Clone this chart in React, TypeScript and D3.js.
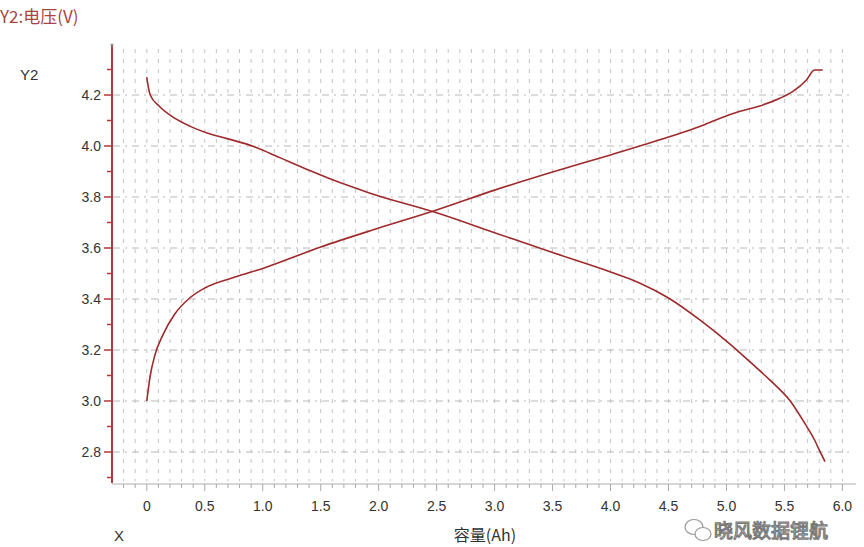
import React, { useEffect, useRef } from "react";
import * as d3 from "d3";

// discharge curve (capacity Ah, voltage V)
const dischargeCap = [0, 0.01, 0.03, 0.11, 0.22, 0.37, 0.52, 0.7, 0.91, 1.06, 1.23, 1.41, 1.58, 1.75, 1.92, 2.5, 3.0, 3.5, 4.0, 4.25, 4.5, 4.77, 5.0, 5.26, 5.38, 5.55, 5.68, 5.76, 5.8, 5.85];
const dischargeV = [4.27, 4.24, 4.2, 4.155, 4.115, 4.078, 4.051, 4.028, 4.0, 3.972, 3.938, 3.903, 3.872, 3.843, 3.816, 3.738, 3.66, 3.582, 3.506, 3.463, 3.404, 3.318, 3.235, 3.13, 3.08, 3.0, 2.909, 2.847, 2.808, 2.762];

// charge curve
const chargeCap = [0, 0.03, 0.07, 0.14, 0.24, 0.37, 0.5, 0.76, 1.0, 1.5, 2.0, 2.5, 3.0, 3.5, 4.0, 4.5, 4.77, 4.94, 5.11, 5.28, 5.46, 5.57, 5.69, 5.76, 5.83];
const chargeV = [3.0, 3.1, 3.18, 3.26, 3.34, 3.404, 3.443, 3.486, 3.52, 3.604, 3.678, 3.749, 3.827, 3.898, 3.965, 4.035, 4.076, 4.108, 4.135, 4.156, 4.187, 4.213, 4.259, 4.298, 4.298];

const xTickLabels = ["0", "0.5", "1.0", "1.5", "2.0", "2.5", "3.0", "3.5", "4.0", "4.5", "5.0", "5.5", "6.0"];
const yTickLabels = ["2.8", "3.0", "3.2", "3.4", "3.6", "3.8", "4.0", "4.2"];

const App = () => {
  const svgRef = useRef<SVGSVGElement>(null);

  useEffect(() => {
    const svg = d3.select(svgRef.current);
    svg.selectAll("*").remove();

    const x = d3.scaleLinear().domain([-0.3, 6.1]).range([112, 854]);
    const y = d3.scaleLinear().domain([4.2, 2.8]).range([95, 452]);
    const top = y(4.396);
    const bottom = 483;
    const axisRed = "#b0393c";
    const lineRed = "#9e2a2b";
    const font = "Arial, 'Liberation Sans', sans-serif";
    const cjk = "'Noto Sans CJK SC', sans-serif";

    // vertical grid every 0.1
    const vGrid = d3.range(-2, 61).map((i) => i / 10);
    svg
      .append("g")
      .selectAll("line")
      .data(vGrid)
      .join("line")
      .attr("x1", (d) => x(d))
      .attr("x2", (d) => x(d))
      .attr("y1", top + 4)
      .attr("y2", bottom - 2)
      .attr("stroke", "#c4c4c4")
      .attr("stroke-width", 1)
      .attr("stroke-dasharray", "4,6");

    // horizontal grid at major ticks
    const hGrid = yTickLabels.map(Number);
    svg
      .append("g")
      .selectAll("line")
      .data(hGrid)
      .join("line")
      .attr("x1", 113)
      .attr("x2", 854)
      .attr("y1", (d) => y(d))
      .attr("y2", (d) => y(d))
      .attr("stroke", "#b8b8b8")
      .attr("stroke-width", 1)
      .attr("stroke-dasharray", "7,5,2,5");

    // x axis
    svg
      .append("line")
      .attr("x1", 112)
      .attr("x2", 856)
      .attr("y1", bottom + 1)
      .attr("y2", bottom + 1)
      .attr("stroke", "#c8c8c8")
      .attr("stroke-width", 1.5);
    svg
      .append("g")
      .selectAll("line")
      .data(vGrid)
      .join("line")
      .attr("x1", (d) => x(d))
      .attr("x2", (d) => x(d))
      .attr("y1", bottom + 1)
      .attr("y2", (d) => (Math.abs(d * 2 - Math.round(d * 2)) < 1e-6 ? bottom + 8 : bottom + 5))
      .attr("stroke", "#aaa")
      .attr("stroke-width", 1);
    svg
      .append("g")
      .selectAll("text")
      .data(xTickLabels)
      .join("text")
      .attr("x", (d) => x(+d))
      .attr("y", 511)
      .attr("text-anchor", "middle")
      .attr("font-family", font)
      .attr("font-size", 14)
      .attr("fill", "#333")
      .text((d) => d);

    // y axis
    svg
      .append("line")
      .attr("x1", 112)
      .attr("x2", 112)
      .attr("y1", top)
      .attr("y2", bottom)
      .attr("stroke", axisRed)
      .attr("stroke-width", 2);
    svg
      .append("circle")
      .attr("cx", 112)
      .attr("cy", top)
      .attr("r", 1.5)
      .attr("fill", "#888");
    const yMinor = d3.range(27, 44).map((i) => i / 10);
    svg
      .append("g")
      .selectAll("line")
      .data(yMinor)
      .join("line")
      .attr("x1", (d) => (Math.round(d * 10) % 2 === 0 ? 104 : 107))
      .attr("x2", 112)
      .attr("y1", (d) => y(d))
      .attr("y2", (d) => y(d))
      .attr("stroke", axisRed)
      .attr("stroke-width", 1.5);
    svg
      .append("g")
      .selectAll("text")
      .data(yTickLabels)
      .join("text")
      .attr("x", 101)
      .attr("y", (d) => y(+d) + 5)
      .attr("text-anchor", "end")
      .attr("font-family", font)
      .attr("font-size", 14)
      .attr("fill", "#333")
      .text((d) => d);

    // curves
    const line = d3
      .line<[number, number]>()
      .x((d) => x(d[0]))
      .y((d) => y(d[1]))
      .curve(d3.curveMonotoneX);
    const series = [
      dischargeCap.map((c, i) => [c, dischargeV[i]] as [number, number]),
      chargeCap.map((c, i) => [c, chargeV[i]] as [number, number]),
    ];
    svg
      .append("g")
      .selectAll("path")
      .data(series)
      .join("path")
      .attr("d", (d) => line(d))
      .attr("fill", "none")
      .attr("stroke", lineRed)
      .attr("stroke-width", 1.6);

    // titles
    svg
      .append("text")
      .attr("x", 0)
      .attr("y", 23)
      .attr("font-family", cjk)
      .attr("font-size", 17)
      .attr("fill", "#a8453f")
      .text("Y2:电压(V)");
    svg
      .append("text")
      .attr("x", 20)
      .attr("y", 80)
      .attr("font-family", font)
      .attr("font-size", 15)
      .attr("fill", "#333")
      .text("Y2");
    svg
      .append("text")
      .attr("x", 114)
      .attr("y", 541)
      .attr("font-family", font)
      .attr("font-size", 15)
      .attr("fill", "#333")
      .text("X");
    svg
      .append("text")
      .attr("x", 485)
      .attr("y", 541)
      .attr("text-anchor", "middle")
      .attr("font-family", cjk)
      .attr("font-size", 16)
      .attr("fill", "#333")
      .text("容量(Ah)");

    // watermark (kept just below the tick labels)
    const wm = svg.append("g").attr("transform", "translate(686,531)");
    wm.append("ellipse")
      .attr("cx", 8)
      .attr("cy", -4)
      .attr("rx", 9)
      .attr("ry", 7.5)
      .attr("fill", "white")
      .attr("stroke", "#999")
      .attr("stroke-width", 1.2);
    wm.append("ellipse")
      .attr("cx", 17)
      .attr("cy", 3)
      .attr("rx", 8)
      .attr("ry", 6.5)
      .attr("fill", "white")
      .attr("stroke", "#999")
      .attr("stroke-width", 1.2);
    wm.append("text")
      .attr("x", 28)
      .attr("y", 7)
      .attr("font-family", cjk)
      .attr("font-size", 19)
      .attr("fill", "#fafafa")
      .attr("stroke", "#777")
      .attr("stroke-width", 1.1)
      .text("晓风数据锂航");
  }, []);

  return (
    <svg
      ref={svgRef}
      width={864}
      height={547}
      style={{ position: "absolute", left: 0, top: 0, background: "white" }}
    />
  );
};

export default App;
